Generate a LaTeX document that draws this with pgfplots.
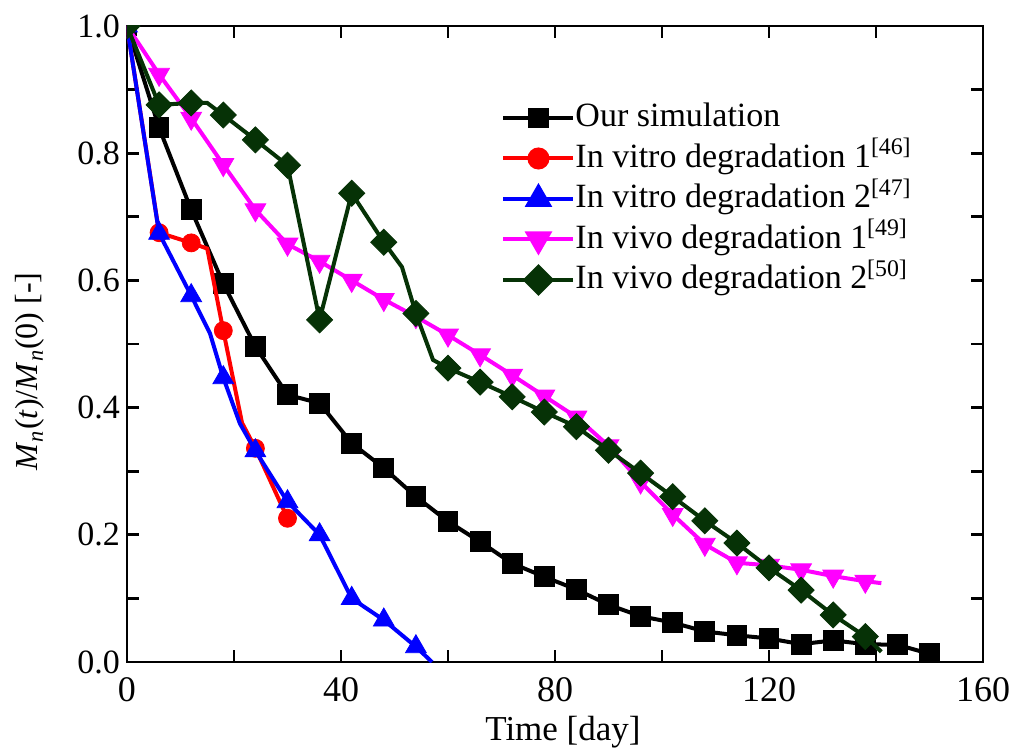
\documentclass[border=0pt]{standalone}
\usepackage{fontspec}
\setmainfont{Liberation Serif}
\usepackage{pgfplots}
\pgfplotsset{compat=1.18}
\definecolor{dgreen}{RGB}{6,50,6}
\definecolor{mymag}{RGB}{255,0,255}
\begin{document}
\begin{tikzpicture}
\begin{axis}[
  at={(0,0)}, anchor=south west,
  scale only axis, width=428pt, height=318pt,
  xmin=0, xmax=160, ymin=0, ymax=1,
  xtick={0,40,80,120,160}, ytick={0,0.2,0.4,0.6,0.8,1.0},
  minor x tick num=1, minor y tick num=1,
  major tick length=6pt, minor tick length=6pt,
  tick align=inside,
  axis line style={line width=1.4pt},
  every tick/.style={line width=1.4pt, black},
  /pgf/number format/assume math mode=true,
  yticklabel style={/pgf/number format/.cd, fixed, fixed zerofill, precision=1},
  ticklabel style={font=\fontsize{17}{17}\selectfont},
  xticklabel style={font=\fontsize{18}{18}\selectfont},
  xticklabel shift=4pt,
  label style={font=\fontsize{17.5}{17.5}\selectfont},
  xlabel={Time [day]},
  xlabel style={at={(axis description cs:0.5093,0)}, anchor=center, yshift=-35pt},
  ylabel={\textit{M}\textsubscript{\textit{n}}(\textit{t})/\textit{M}\textsubscript{\textit{n}}(0) [-]},
  ylabel style={at={(axis description cs:-0.1133,0.457)}, anchor=center, font=\fontsize{16}{16}\selectfont},
  clip marker paths=true,
  legend cell align=left,
  legend style={draw=none, fill=none, at={(0.430,0.889)}, anchor=north west,
    font=\fontsize{17}{17}\selectfont, row sep=3.25pt,
    nodes={inner sep=0pt, text height=13pt, text depth=4pt}},
  legend image code/.code={\draw[mark repeat=2,mark phase=2] plot coordinates {(0pt,0pt)(17.5pt,0pt)(35pt,0pt)};},
]
\addlegendimage{black, line width=2pt, mark=square*, mark size=4.2pt}
\addlegendentry{Our simulation}
\addlegendimage{red, line width=2pt, mark=*, mark size=4.5pt}
\addlegendentry{In vitro degradation 1\textsuperscript{[46]}}
\addlegendimage{blue, line width=2pt, mark=triangle*, mark size=6pt}
\addlegendentry{In vitro degradation 2\textsuperscript{[47]}}
\addlegendimage{mymag, line width=2pt, mark=triangle*, mark size=6pt, mark options={rotate=180}}
\addlegendentry{In vivo degradation 1\textsuperscript{[49]}}
\addlegendimage{dgreen, line width=2pt, mark=square*, mark size=4.6pt, mark options={rotate=45}}
\addlegendentry{In vivo degradation 2\textsuperscript{[50]}}

% Our simulation
\addplot[black, line width=2pt, mark=square*, mark size=4.2pt, forget plot] coordinates {
(0,1.0)(6,0.84)(12,0.711)(18,0.595)(24,0.496)(30,0.42)(36,0.407)(42,0.344)(48,0.305)(54,0.26)(60,0.221)(66,0.189)(72,0.155)(78,0.134)(84,0.114)(90,0.09)(96,0.072)(102,0.062)(108,0.048)(114,0.042)(120,0.037)(126,0.028)(132,0.034)(138,0.028)(144,0.027)(150,0.013)};

% In vitro 1
\addplot[red, line width=2pt, forget plot] coordinates {
(0,1.0)(6,0.675)(12,0.659)(15,0.65)(18,0.521)(21.5,0.376)(24,0.336)(30,0.226)};
\addplot[red, only marks, mark=*, mark size=4.5pt, forget plot] coordinates {
(0,1.0)(6,0.675)(12,0.659)(18,0.521)(24,0.336)(30,0.226)};

% In vitro 2
\addplot[blue, line width=2pt, forget plot] coordinates {
(0,1.0)(6,0.674)(12,0.576)(15.5,0.517)(18,0.447)(21.1,0.375)(24,0.332)(30,0.252)(36,0.2)(42,0.1)(48,0.066)(54,0.024)(57,0)};
\addplot[blue, only marks, mark=triangle*, mark size=6pt, forget plot] coordinates {
(0,1.0)(6,0.674)(12,0.576)(18,0.447)(24,0.332)(30,0.252)(36,0.2)(42,0.1)(48,0.066)(54,0.024)};

% In vivo 1
\addplot[mymag, line width=2pt, forget plot] coordinates {
(0,1.0)(6,0.924)(12,0.855)(18,0.782)(24,0.711)(30,0.657)(36,0.63)(42,0.6)(48,0.57)(54,0.543)(60,0.514)(66,0.483)(72,0.451)(78,0.418)(84,0.385)(90,0.34)(96,0.283)(102,0.232)(108,0.185)(114,0.156)(120,0.152)(126,0.145)(132,0.135)(138,0.127)(141,0.124)};
\addplot[mymag, only marks, mark=triangle*, mark size=6pt, mark options={rotate=180}, forget plot] coordinates {
(0,1.0)(6,0.924)(12,0.855)(18,0.782)(24,0.711)(30,0.657)(36,0.63)(42,0.6)(48,0.57)(54,0.543)(60,0.514)(66,0.483)(72,0.451)(78,0.418)(84,0.385)(90,0.34)(96,0.283)(102,0.232)(108,0.185)(114,0.156)(120,0.152)(126,0.145)(132,0.135)(138,0.127)};

% In vivo 2
\addplot[dgreen, line width=2pt, forget plot] coordinates {
(0,1.0)(6,0.876)(12,0.879)(15,0.879)(18,0.86)(24,0.821)(30,0.781)(36,0.538)(42,0.737)(48,0.66)(51.4,0.621)(54,0.548)(57.2,0.475)(60,0.462)(66,0.44)(72,0.417)(78,0.393)(84,0.37)(90,0.333)(96,0.297)(102,0.26)(108,0.222)(114,0.187)(120,0.148)(126,0.113)(132,0.074)(138,0.04)(141,0.016)};
\addplot[dgreen, only marks, mark=square*, mark size=4.6pt, mark options={rotate=45}, forget plot] coordinates {
(0,1.0)(6,0.876)(12,0.879)(18,0.86)(24,0.821)(30,0.781)(36,0.538)(42,0.737)(48,0.66)(54,0.548)(60,0.462)(66,0.44)(72,0.417)(78,0.393)(84,0.37)(90,0.333)(96,0.297)(102,0.26)(108,0.222)(114,0.187)(120,0.148)(126,0.113)(132,0.074)(138,0.04)};
\end{axis}
\pgfresetboundingbox
\path[use as bounding box] (-63.5pt,-43.5pt) rectangle (444.5pt,331pt);
\end{tikzpicture}
\end{document}
